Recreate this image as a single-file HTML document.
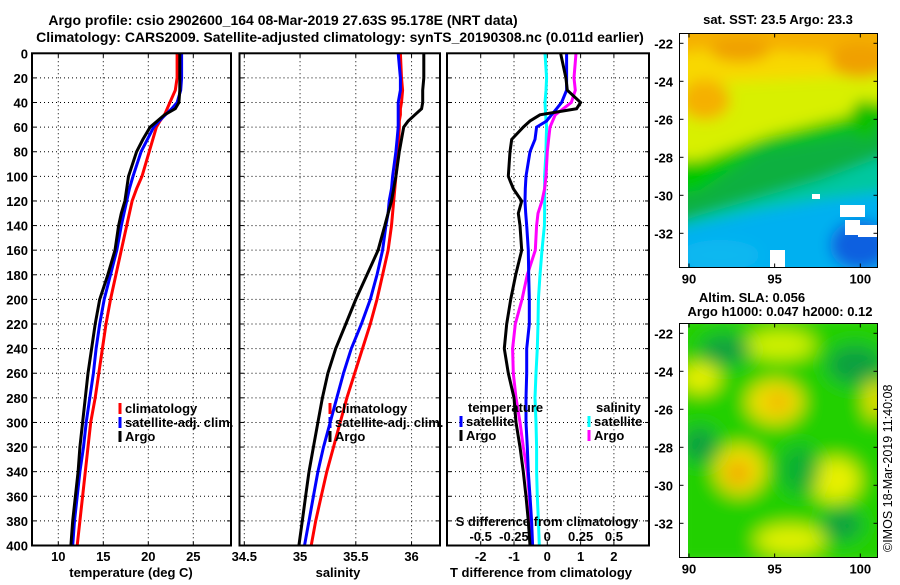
<!DOCTYPE html>
<html><head><meta charset="utf-8"><style>
body{margin:0;background:#fff}
svg text{font-family:"Liberation Sans",Arial,sans-serif;font-weight:bold;font-size:13px;fill:#000}
</style></head><body>
<svg id="fig" width="900" height="580" viewBox="0 0 900 580" xmlns="http://www.w3.org/2000/svg">
<defs>
<filter id="blr" x="-20%" y="-20%" width="140%" height="140%"><feGaussianBlur stdDeviation="9"/></filter>
<filter id="blr2" x="-20%" y="-20%" width="140%" height="140%"><feGaussianBlur stdDeviation="7"/></filter>
<clipPath id="c1"><rect x="688" y="34" width="189" height="233"/></clipPath>
<clipPath id="c2"><rect x="688" y="324" width="189" height="233"/></clipPath>
</defs>
<text x="283" y="25" text-anchor="middle" style="font-size:14px">Argo profile: csio 2902600_164 08-Mar-2019 27.63S 95.178E (NRT data)</text>
<text x="340" y="42" text-anchor="middle" style="font-size:14px">Climatology: CARS2009. Satellite-adjusted climatology: synTS_20190308.nc (0.011d earlier)</text>
<g id="g1"></g>
<g id="g2"></g>
<g id="g3"></g>

<g>
<g clip-path="url(#c1)"><g filter="url(#blr2)">
<rect x="670" y="20" width="230" height="260" fill="#00c8a0"/>
<polygon points="670,20 900,20 900,150 820,180 700,215 670,225" fill="#10b040"/>
<polygon points="670,20 900,20 900,120 840,135 760,150 700,190 670,195" fill="#00c800"/>
<polygon points="670,20 900,20 900,95 850,115 770,135 700,160 670,160" fill="#d8f000"/>
<polygon points="670,20 900,20 900,70 860,75 760,80 670,85" fill="#f8d800"/>
<polygon points="670,20 900,20 900,60 840,55 760,50 700,50 670,55" fill="#f5b000"/>
<ellipse cx="705" cy="100" rx="25" ry="20" fill="#f5b000"/>
<ellipse cx="740" cy="50" rx="30" ry="12" fill="#f0a000"/>
<ellipse cx="860" cy="60" rx="30" ry="18" fill="#f0a000"/>
<ellipse cx="865" cy="120" rx="15" ry="20" fill="#10c000"/>
<polygon points="670,230 760,210 820,200 900,190 900,280 670,280" fill="#00b0f0"/>
<ellipse cx="720" cy="255" rx="40" ry="15" fill="#10b8f0"/>
<ellipse cx="860" cy="245" rx="30" ry="25" fill="#1060e0"/>
</g>
<rect x="770" y="250" width="15" height="18" fill="#fff"/>
<rect x="840" y="205" width="25" height="12" fill="#fff"/>
<rect x="845" y="220" width="15" height="15" fill="#fff"/>
<rect x="858" y="225" width="20" height="12" fill="#fff"/>
<rect x="812" y="194" width="8" height="5" fill="#fff"/>
</g>
<rect x="679.5" y="33.5" width="198" height="234" fill="none" stroke="#000"/>
</g>
<g>
<g clip-path="url(#c2)"><g filter="url(#blr)">
<rect x="670" y="310" width="230" height="260" fill="#20d000"/>
<ellipse cx="780" cy="345" rx="35" ry="15" fill="#d0f000"/>
<ellipse cx="700" cy="378" rx="20" ry="15" fill="#e8f000"/>
<ellipse cx="775" cy="402" rx="28" ry="22" fill="#f0e000"/>
<ellipse cx="778" cy="402" rx="12" ry="10" fill="#f0b000"/>
<ellipse cx="740" cy="470" rx="25" ry="25" fill="#f0e000"/>
<ellipse cx="738" cy="473" rx="12" ry="12" fill="#f0a000"/>
<ellipse cx="835" cy="480" rx="25" ry="22" fill="#e8f000"/>
<ellipse cx="790" cy="540" rx="35" ry="15" fill="#e0f000"/>
<ellipse cx="875" cy="400" rx="10" ry="20" fill="#f0e000"/>
<ellipse cx="725" cy="350" rx="25" ry="15" fill="#10a040"/>
<ellipse cx="855" cy="365" rx="28" ry="20" fill="#10a040"/>
<ellipse cx="700" cy="445" rx="18" ry="18" fill="#10a040"/>
<ellipse cx="800" cy="470" rx="20" ry="25" fill="#10b030"/>
<ellipse cx="842" cy="525" rx="20" ry="15" fill="#10a040"/>
</g></g>
<rect x="679.5" y="323.5" width="198" height="234" fill="none" stroke="#000"/>
</g>
<text x="778" y="24" text-anchor="middle">sat. SST: 23.5 Argo: 23.3</text>
<text x="752" y="302" text-anchor="middle">Altim. SLA: 0.056</text>
<text x="780" y="316" text-anchor="middle">Argo h1000: 0.047 h2000: 0.12</text>
<text transform="translate(892,552) rotate(-90)" style="font-weight:normal;font-size:12.5px">©IMOS 18-Mar-2019 11:40:08</text>
<g id="maps-ticks"></g>
</svg>
<script>
const depths=[0,20,30,40,45,50,55,60,70,80,100,110,120,130,140,160,180,200,220,240,260,280,300,320,340,360,380,400];
const tempClim=[23.2,23.2,23.0,22.4,22.1,21.8,21.3,20.9,20.5,20.1,19.3,18.7,18.2,17.9,17.6,17.0,16.4,15.8,15.3,14.9,14.5,14.1,13.6,13.3,13.0,12.7,12.4,12.1];
const tempSat=[23.7,23.7,23.6,23.2,22.6,21.9,21.2,20.6,19.9,19.2,18.3,17.9,17.6,17.3,17.0,16.5,15.8,15.1,14.6,14.2,13.9,13.5,13.1,12.8,12.4,12.1,11.8,11.6];
const tempArgo=[23.5,23.5,23.5,23.4,23.0,21.8,21.0,20.2,19.4,18.7,17.8,17.6,17.4,17.0,16.7,16.3,15.5,14.6,14.1,13.7,13.3,13.0,12.7,12.4,12.2,11.9,11.6,11.4];
const salClim=[35.90,35.91,35.92,35.91,35.90,35.90,35.89,35.89,35.885,35.88,35.86,35.85,35.84,35.83,35.82,35.79,35.74,35.69,35.63,35.56,35.49,35.42,35.36,35.30,35.24,35.19,35.14,35.10];
const salSat=[35.88,35.90,35.90,35.88,35.88,35.88,35.88,35.88,35.87,35.86,35.83,35.82,35.80,35.79,35.77,35.74,35.69,35.63,35.55,35.46,35.39,35.33,35.27,35.21,35.16,35.12,35.08,35.04];
const salArgo=[36.11,36.11,36.10,36.10,36.09,36.03,35.97,35.93,35.91,35.89,35.86,35.84,35.82,35.79,35.76,35.70,35.60,35.50,35.41,35.32,35.25,35.20,35.16,35.12,35.08,35.05,35.02,34.99];
const dTArgo=[0.4,0.56,0.6,1.0,0.88,-0.22,-0.52,-0.72,-1.07,-1.12,-1.17,-1.02,-0.77,-0.87,-0.82,-0.77,-0.95,-1.1,-1.22,-1.29,-1.17,-1.0,-0.94,-0.82,-0.72,-0.64,-0.57,-0.52];
const dTSat=[0.58,0.58,0.58,0.43,0.28,0.13,-0.02,-0.32,-0.37,-0.52,-0.64,-0.66,-0.67,-0.65,-0.62,-0.57,-0.56,-0.54,-0.54,-0.62,-0.62,-0.64,-0.64,-0.6,-0.57,-0.52,-0.47,-0.44];
const dSArgo=[0.215,0.2,0.21,0.18,0.12,0.06,0.04,0.02,0.01,0,-0.01,-0.02,-0.04,-0.07,-0.08,-0.09,-0.15,-0.19,-0.24,-0.26,-0.255,-0.235,-0.205,-0.18,-0.15,-0.135,-0.125,-0.117];
const dSSat=[-0.017,-0.005,-0.01,-0.017,-0.015,-0.012,-0.01,-0.005,-0.008,-0.01,-0.02,-0.02,-0.02,-0.02,-0.022,-0.04,-0.055,-0.067,-0.07,-0.075,-0.085,-0.092,-0.085,-0.08,-0.08,-0.075,-0.067,-0.06];
const depthTicks=[0,20,40,60,80,100,120,140,160,180,200,220,240,260,280,300,320,340,360,380,400];
const tempTicks=[10,15,20,25];
const salTicks=[34.5,35,35.5,36];
const dTTicks=[-2,-1,0,1,2];
const dSTicks=[-0.5,-0.25,0,0.25,0.5];
const dSTickLabels=["-0.5","-0.25","0","0.25","0.5"];

const NS="http://www.w3.org/2000/svg";
const Y0=53.3,Y1=545.5;
const yS=d=>Y0+(Y1-Y0)*d/400;
function mk(p,tag,at){const e=document.createElementNS(NS,tag);for(const k in at)e.setAttribute(k,at[k]);p.appendChild(e);return e;}
function txt(p,x,y,s,anchor,name){const t=mk(p,'text',{x:x,y:y,'text-anchor':anchor||'start'});t.textContent=s;


return t;}
function panel(g,x0,x1,xS,ticks,labels,showY){
  depthTicks.forEach(d=>{const y=yS(d);
    const l=mk(g,'line',{x1:x0,x2:x1,y1:y,y2:y,stroke:'#000','stroke-dasharray':'1 3'});
    
    
    mk(g,'line',{x1:x0,x2:x0+4,y1:y,y2:y,stroke:'#000'});mk(g,'line',{x1:x1-4,x2:x1,y1:y,y2:y,stroke:'#000'});
    if(showY)txt(g,28,y+5,String(d),'end','y-tick-label');});
  ticks.forEach((v,i)=>{const x=xS(v);
    const l=mk(g,'line',{x1:x,x2:x,y1:Y0,y2:Y1,stroke:'#000','stroke-dasharray':'1 3'});
    
    
    mk(g,'line',{x1:x,x2:x,y1:Y1-4,y2:Y1,stroke:'#000'});mk(g,'line',{x1:x,x2:x,y1:Y0,y2:Y0+4,stroke:'#000'});
    if(labels)txt(g,x,561,labels[i],'middle','x-tick-label');});
}
function series(g,xs,xS,col,name){
  const d=xs.map((v,i)=>(i?'L':'M')+xS(v).toFixed(1)+','+yS(depths[i]).toFixed(1)).join('');
  const p=mk(g,'path',{d:d,fill:'none',stroke:col,'stroke-width':3});
  
  
}
function frame(g,x0,x1){const r=mk(g,'rect',{x:x0,y:Y0,width:x1-x0,height:Y1-Y0,fill:'none',stroke:'#000','stroke-width':2});
  
  }
function leg(g,x,y,col,s){mk(g,'rect',{x:x-1.5,y:y-10,width:3,height:11,fill:col});
  const t=txt(g,x+5,y,s,'start','legend-entry');}

// panel 1
const g1=document.getElementById('g1');
const xT=v=>58.3+(v-10)*9;
panel(g1,32,231,xT,tempTicks,tempTicks.map(String),true);
series(g1,tempClim,xT,'#f00','temp-climatology-line');
series(g1,tempSat,xT,'#00f','temp-satellite-line');
series(g1,tempArgo,xT,'#000','temp-argo-line');
frame(g1,32,231);
leg(g1,120,413,'#f00','climatology');leg(g1,120,427,'#00f','satellite-adj. clim.');leg(g1,120,441,'#000','Argo');
txt(g1,131,577,'temperature (deg C)','middle','x-axis-title');

// panel 2
const g2=document.getElementById('g2');
const xSal=v=>244.3+(v-34.5)*111.5;
panel(g2,239.5,440,xSal,salTicks,salTicks.map(String),false);
series(g2,salClim,xSal,'#f00','sal-climatology-line');
series(g2,salSat,xSal,'#00f','sal-satellite-line');
series(g2,salArgo,xSal,'#000','sal-argo-line');
frame(g2,239.5,440);
leg(g2,330,413,'#f00','climatology');leg(g2,330,427,'#00f','satellite-adj. clim.');leg(g2,330,441,'#000','Argo');
txt(g2,338,577,'salinity','middle','x-axis-title');

// panel 3
const g3=document.getElementById('g3');
const xD=v=>547.3+v*33.3;
const xDS=v=>547.3+v*133.3;
panel(g3,447,649,xD,dTTicks,dTTicks.map(String),false);
series(g3,dSSat,xDS,'#0ff','s-diff-satellite-line');
series(g3,dSArgo,xDS,'#f0f','s-diff-argo-line');
series(g3,dTSat,xD,'#00f','t-diff-satellite-line');
series(g3,dTArgo,xD,'#000','t-diff-argo-line');
frame(g3,447,649);
txt(g3,468,412,'temperature','start','legend-title-temperature');
txt(g3,596,412,'salinity','start','legend-title-salinity');
leg(g3,461,426,'#00f','satellite');leg(g3,461,440,'#000','Argo');
leg(g3,589,426,'#0ff','satellite');leg(g3,589,440,'#f0f','Argo');
txt(g3,547,526,'S difference from climatology','middle','s-axis-title');
dSTicks.forEach((v,i)=>txt(g3,xDS(v),541,dSTickLabels[i],'middle','s-tick-label'));
txt(g3,541,577,'T difference from climatology','middle','x-axis-title');

// map ticks
const mt=document.getElementById('maps-ticks');
const lonTicks=[90,95,100];
const latTicks=[-22,-24,-26,-28,-30,-32];
[[33.5,267.5,43.3],[323.5,557.5,333.3]].forEach(([top,bot,y22])=>{
  lonTicks.forEach(l=>{const x=689+(l-90)*17.13;
    mk(mt,'line',{x1:x,x2:x,y1:bot,y2:bot-4,stroke:'#000'});mk(mt,'line',{x1:x,x2:x,y1:top,y2:top+4,stroke:'#000'});
    txt(mt,x,bot+16,String(l),'middle','lon-tick-label');});
  latTicks.forEach(l=>{const y=y22+(-22-l)*19;
    mk(mt,'line',{x1:679.5,x2:683.5,y1:y,y2:y,stroke:'#000'});mk(mt,'line',{x1:873.5,x2:877.5,y1:y,y2:y,stroke:'#000'});
    txt(mt,673,y+5,String(l),'end','lat-tick-label');});
});
</script>
</body></html>
